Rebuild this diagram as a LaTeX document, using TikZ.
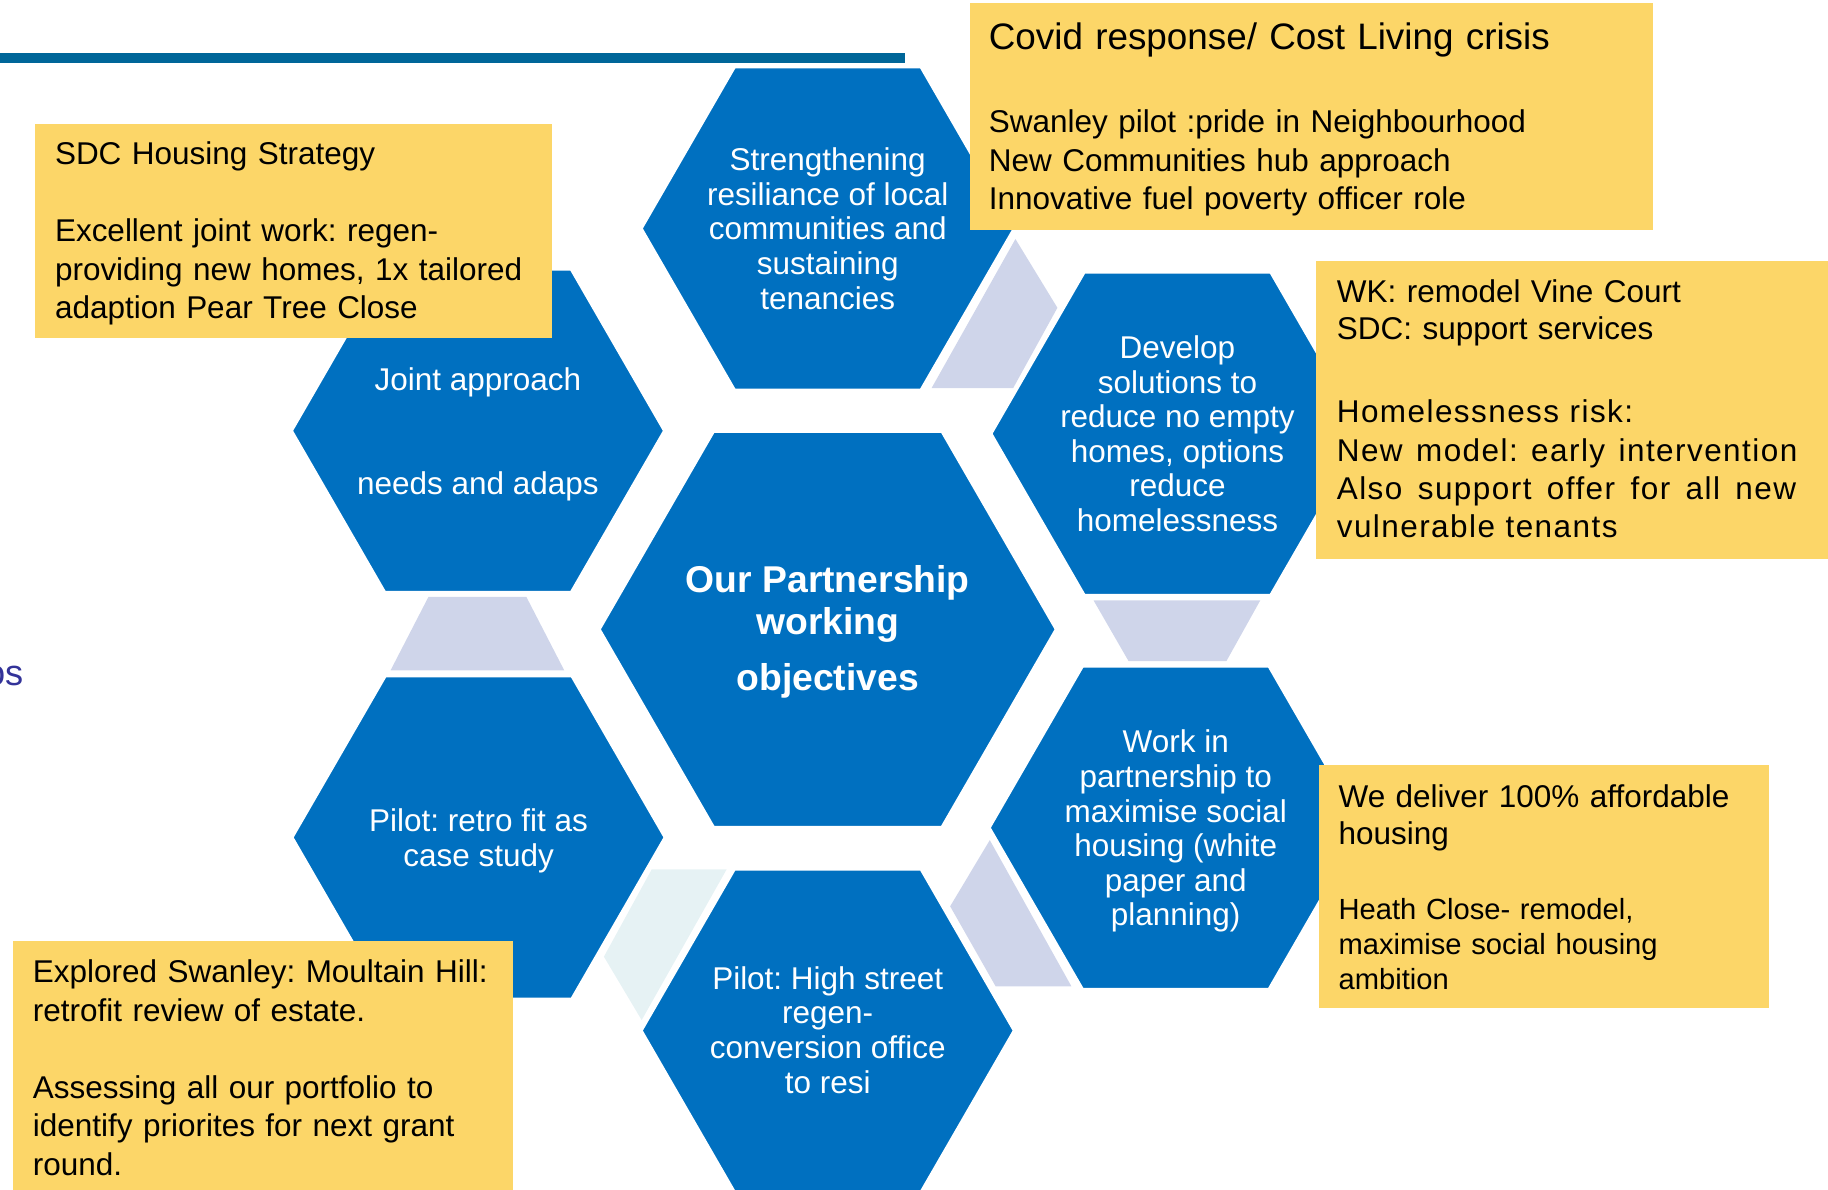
\documentclass[tikz,border=0pt]{standalone}
\usepackage{fontspec}
\setmainfont{Liberation Sans}
\usetikzlibrary{shapes.geometric}
\definecolor{hexblue}{RGB}{0,112,192}
\definecolor{barblue}{RGB}{0,102,153}
\definecolor{lav}{RGB}{207,213,234}
\definecolor{pale}{RGB}{230,242,244}
\definecolor{yfill}{RGB}{252,214,104}
\definecolor{purp}{RGB}{51,51,153}
\begin{document}
\frenchspacing
\begin{tikzpicture}[x=1pt,y=-1pt,
  hexnode/.style={regular polygon, regular polygon sides=6, minimum size=320pt, inner sep=0pt,
    fill=hexblue, draw=white, line width=2.5pt},
  bighex/.style={hexnode, minimum size=392pt},
  hextext/.style={inner sep=0pt, text=white, align=center, font=\fontsize{27}{29.7}\selectfont},
  bigtext/.style={hextext, font=\fontsize{32}{36}\selectfont\bfseries},
  conn/.style={fill=lav},
  ybox/.style={fill=yfill, inner sep=0pt, anchor=north west, draw=none},
  ytext/.style={anchor=base west, inner sep=0pt, text width=560pt, align=left, text=black,
    font=\fontsize{27}{33}\selectfont}]
\useasboundingbox (0,0) rectangle (1568,1020);

% top bar
\fill[barblue] (0,45.7) rectangle (776,53.8);

% light connector shapes
\fill[conn] (871,205) -- (907,264) -- (869,333) -- (799,333) -- cycle;
\fill[conn] (938,515) -- (1081,515) -- (1052,567) -- (968,567) -- cycle;
\fill[conn] (849,720.6) -- (919,846) -- (854,846) -- (815,777.4) -- cycle;
\fill[pale] (559,745.7) -- (623.3,745.7) -- (550.4,875) -- (518,820.6) -- cycle;
\fill[conn] (367.5,512) -- (451.5,512) -- (484,575) -- (335,575) -- cycle;

% hexagons
\node[hexnode] (top) at (710,196) {};
\node[hexnode] (joint) at (410,369.5) {};
\node[hexnode] (develop) at (1010,372) {};
\node[hexnode] (work) at (1008.5,710) {};
\node[hexnode] (retro) at (410.5,718.3) {};
\node[hexnode] (high) at (710,884) {};
\node[bighex] (center) at (710,539.8) {};

% hexagon texts
\node[hextext] (top-t) at (top.center) {Strengthening\\resiliance of local\\communities and\\sustaining\\tenancies};
\node[hextext] (joint-t) at ([yshift=-3pt]joint.center) {Joint approach\\[59.4pt]needs and adaps};
\node[hextext] (develop-t) at (develop.center) {Develop\\solutions to\\reduce no empty\\homes, options\\reduce\\homelessness};
\node[hextext] (work-t) at ([yshift=-3pt]work.center) {Work in\\partnership to\\maximise social\\housing (white\\paper and\\planning)};
\node[hextext] (retro-t) at ([yshift=-3pt]retro.center) {Pilot: retro fit as\\case study};
\node[hextext] (high-t) at ([yshift=0.5pt]high.center) {Pilot: High street\\regen-\\conversion office\\to resi};
\node[bigtext] (center-t) at ([yshift=-2.5pt]center.center) {Our Partnership\\working\\[12pt]objectives};

% yellow boxes
\node[ybox, minimum width=443.5pt, minimum height=183pt] (b1) at (30,106.5) {};
\node[ybox, minimum width=586pt, minimum height=194.5pt] (b2) at (832,2.6) {};
\node[ybox, minimum width=440pt, minimum height=255pt] (b3) at (1129,224) {};
\node[ybox, minimum width=386pt, minimum height=208pt] (b4) at (1131.5,656) {};
\node[ybox, minimum width=429pt, minimum height=214pt] (b5) at (11,807) {};

% yellow box texts
\node[ytext] (t1) at (47,141.5) {SDC Housing Strategy\\[33pt]Excellent joint work: regen-\\providing new homes, 1x tailored\\adaption Pear Tree Close};
\node[ytext, font=\fontsize{31.6}{38}\selectfont] (t2a) at (848,42.7) {Covid response/ Cost Living crisis};
\node[ytext, font=\fontsize{27}{33.2}\selectfont] (t2b) at (848,113.5) {Swanley pilot :pride in Neighbourhood\\New Communities hub approach\\Innovative fuel poverty officer role};
\node[ytext, font=\fontsize{27}{32.2}\selectfont] (t3a) at (1146.5,259.3) {WK: remodel Vine Court\\SDC: support services};
\node[ytext, font=\fontsize{27}{32.8}\selectfont\addfontfeature{LetterSpace=4.6}] (t3b) at (1146.5,362.8) {Homelessness risk:\\\leavevmode\hbox to 395pt{New \hfill model: \hfill early \hfill intervention}\\\leavevmode\hbox to 394pt{Also \hfill support \hfill offer \hfill for \hfill all \hfill new}\\vulnerable tenants};
\node[ytext, font=\fontsize{27}{32}\selectfont] (t4a) at (1148,692.5) {We deliver 100\% affordable\\housing};
\node[ytext, font=\fontsize{25}{30}\selectfont] (t4b) at (1148,788.5) {Heath Close- remodel,\\maximise social housing\\ambition};
\node[ytext] (t5) at (28,843) {Explored Swanley: Moultain Hill:\\retrofit review of estate.\\[33pt]Assessing all our portfolio to\\identify priorites for next grant\\round.};

% clipped stray text at left edge
\node[anchor=base west, inner sep=0pt, text=purp, font=\fontsize{31}{36}\selectfont] (os) at (-13,588) {os};
\end{tikzpicture}
\end{document}
